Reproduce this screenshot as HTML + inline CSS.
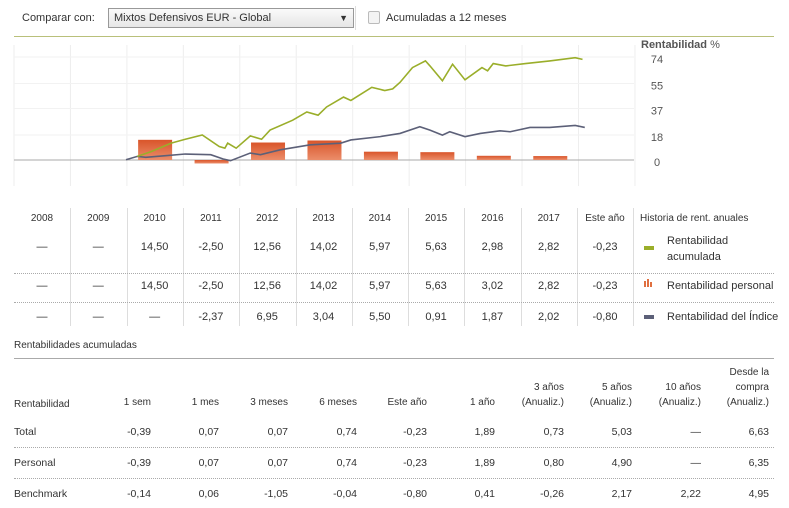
<!DOCTYPE html>
<html><head><meta charset="utf-8">
<style>
body{margin:0;width:789px;height:508px;background:#fff;font-family:"Liberation Sans",sans-serif;color:#333;position:relative;overflow:hidden}
.a{position:absolute;white-space:nowrap;font-size:11px}
.c{text-align:center;width:50px;margin-left:-25px}
.r{text-align:right;width:80px;margin-left:-80px}
.vs{position:absolute;width:1px;background:#ddd}
.dot{position:absolute;left:14px;width:760px;border-top:1px dotted #aaa;height:0}
</style></head><body>
<div class="a" style="left:22px;top:12px">Comparar con:</div>
<div style="position:absolute;left:108px;top:8px;width:239px;height:18px;border:1px solid #999;background:linear-gradient(#fafafa,#e6e6e6);font-size:11px;line-height:18px;padding-left:5px;box-sizing:content-box">Mixtos Defensivos EUR - Global<span style="position:absolute;right:5px;font-size:9px">▼</span></div>
<div style="position:absolute;left:355px;top:6px;width:1px;height:24px;background:#ddd"></div>
<div style="position:absolute;left:368px;top:11px;width:10px;height:11px;border:1px solid #bbb;border-radius:2px;background:#f4f4f4"></div>
<div class="a" style="left:386px;top:12px">Acumuladas a 12 meses</div>
<div style="position:absolute;left:14px;top:36px;width:760px;height:1px;background:#b9c07a"></div>
<svg id="chart" style="position:absolute;left:0;top:0" width="789" height="200"></svg>
<div id="tbl"></div>
<script>
const years=["2008","2009","2010","2011","2012","2013","2014","2015","2016","2017"];
const personalBars=[null,null,14.50,-2.50,12.56,14.02,5.97,5.63,3.02,2.82];
const accTimes=[2010.2,2010.45,2010.8,2011.05,2011.35,2011.65,2011.75,2011.8,2011.95,2012.2,2012.4,2012.55,2012.95,2013.2,2013.4,2013.55,2013.85,2013.98,2014.35,2014.58,2014.72,2014.85,2015.07,2015.3,2015.38,2015.6,2015.78,2016.0,2016.3,2016.4,2016.5,2016.72,2017.07,2017.5,2017.95,2018.08];
const accValues=[2.6,6.1,12.1,14.9,18.0,9.7,8.5,12.1,8.5,17.3,14.9,21.5,28.6,34.5,32.2,38.1,45.2,42.8,52.2,49.9,51.1,55.8,66.4,71.2,67.6,56.9,68.8,57.6,66.4,64.1,69.3,67.6,69.3,71.2,73.5,72.3];
const idxTimes=[2010.0,2010.2,2010.35,2010.7,2011.05,2011.5,2011.72,2011.85,2012.2,2012.38,2012.73,2013.26,2013.8,2013.98,2014.5,2014.85,2015.2,2015.38,2015.6,2015.73,2016.0,2016.27,2016.62,2016.8,2017.15,2017.5,2017.95,2018.12];
const idxValues=[0.2,2.6,1.9,3.1,4.3,3.8,0.7,-0.5,5.0,3.8,7.3,10.9,12.1,14.4,16.8,19.1,23.9,21.5,17.9,20.3,16.8,19.1,21.0,20.3,23.4,23.4,24.8,23.4];
const yTicks=[0,18,37,55,74];
const svg=document.getElementById('chart');const NS='http://www.w3.org/2000/svg';
const x0=126,yw=56.5,y0=160,ys=(160-57)/74;
const X=t=>x0+(t-2010)*yw, Y=v=>y0-v*ys;
function mk(tag,at,name){const e=document.createElementNS(NS,tag);for(const k in at)e.setAttribute(k,at[k]);


svg.appendChild(e);return e;}
const defs=mk('defs',{},'defs');defs.innerHTML='<linearGradient id="bg" x1="0" y1="0" x2="0" y2="1"><stop offset="0" stop-color="#d9552a"/><stop offset="1" stop-color="#eb8d6a"/></linearGradient>';
for(let i=0;i<=11;i++){mk('line',{x1:14+i*56.45,x2:14+i*56.45,y1:45,y2:186,stroke:'#eee'},'grid-vertical');}
yTicks.forEach(v=>{mk('line',{x1:14,x2:634,y1:Y(v),y2:Y(v),stroke:v===0?'#aaa':'#f2f2f2'},'grid-horizontal');
const t=mk('text',{x:657,y:Y(v)+6,'text-anchor':'middle','font-size':'11','fill':'#555','font-family':'Liberation Sans'},'y-tick-label');t.textContent=v;});
const tt=mk('text',{x:641,y:48,'font-size':'11','fill':'#555','font-family':'Liberation Sans','font-weight':'bold'},'y-axis-title');tt.innerHTML='Rentabilidad <tspan font-weight="normal">%</tspan>';
personalBars.forEach((v,i)=>{if(v==null)return;const cx=14+(i+0.5)*56.45;const top=Math.min(Y(v),Y(0)),h=Math.abs(Y(v)-Y(0));
mk('rect',{x:cx-17,y:top,width:34,height:h,fill:'url(#bg)'},'bar-'+years[i]);});
function line(ts,vs,col,name){mk('polyline',{points:ts.map((t,i)=>X(t)+','+Y(vs[i])).join(' '),fill:'none',stroke:col,'stroke-width':1.6},name);}
line(idxTimes,idxValues,'#5c6078','index-line');
line(accTimes,accValues,'#9aae2a','accumulated-line');

const tbl=document.getElementById('tbl');
const cols=[...years,"Este año"];
const row1=["—","—","14,50","-2,50","12,56","14,02","5,97","5,63","2,98","2,82","-0,23"];
const row2=["—","—","14,50","-2,50","12,56","14,02","5,97","5,63","3,02","2,82","-0,23"];
const row3=["—","—","—","-2,37","6,95","3,04","5,50","0,91","1,87","2,02","-0,80"];
let h='';
for(let i=1;i<=11;i++)h+=`<div class="vs" style="left:${14+i*56.3}px;top:208px;height:118px"></div>`;
cols.forEach((c,i)=>{h+=`<div class="a c" style="left:${42+i*56.3}px;top:213px;font-size:10px">${c}</div>`;});
[[row1,241],[row2,280],[row3,311]].forEach(([r,y])=>r.forEach((v,i)=>{h+=`<div class="a c" style="left:${42+i*56.3}px;top:${y}px">${v}</div>`;}));
h+=`<div class="dot" style="top:273px"></div><div class="dot" style="top:302px"></div>`;
h+=`<div class="a" style="left:640px;top:213px;font-size:10px">Historia de rent. anuales</div>`;
h+=`<div style="position:absolute;left:644px;top:246px;width:10px;height:4px;background:#9aae2a"></div><div class="a" style="left:667px;top:233px;line-height:16px">Rentabilidad<br>acumulada</div>`;
h+=`<div style="position:absolute;left:644px;top:281px;width:2px;height:6px;background:#e07040"></div><div style="position:absolute;left:647px;top:279px;width:2px;height:8px;background:#e07040"></div><div style="position:absolute;left:650px;top:282px;width:2px;height:5px;background:#e07040"></div><div class="a" style="left:667px;top:280px">Rentabilidad personal</div>`;
h+=`<div style="position:absolute;left:644px;top:315px;width:10px;height:4px;background:#5c6078"></div><div class="a" style="left:667px;top:311px">Rentabilidad del Índice</div>`;
h+=`<div class="a" style="left:14px;top:340px;font-size:10px">Rentabilidades acumuladas</div><div style="position:absolute;left:14px;top:358px;width:760px;height:1px;background:#aaa"></div>`;
const hdr=["1 sem","1 mes","3 meses","6 meses","Este año","1 año","3 años<br>(Anualiz.)","5 años<br>(Anualiz.)","10 años<br>(Anualiz.)","Desde la<br>compra<br>(Anualiz.)"];
const rights=[151,219,288,357,427,495,564,632,701,769];
const tot=["-0,39","0,07","0,07","0,74","-0,23","1,89","0,73","5,03","—","6,63"];
const per=["-0,39","0,07","0,07","0,74","-0,23","1,89","0,80","4,90","—","6,35"];
const ben=["-0,14","0,06","-1,05","-0,04","-0,80","0,41","-0,26","2,17","2,22","4,95"];
h+=`<div class="a" style="left:14px;top:399px;font-size:10px">Rentabilidad</div>`;
hdr.forEach((t,i)=>{const n=t.split('<br>').length;h+=`<div class="a r" style="left:${rights[i]}px;top:${410-n*15}px;font-size:10px;line-height:15px">${t}</div>`;});
[["Total",tot,426],["Personal",per,457],["Benchmark",ben,488]].forEach(([n,r,y])=>{h+=`<div class="a" style="left:14px;top:${y}px;font-size:10.5px">${n}</div>`;
r.forEach((v,i)=>{h+=`<div class="a r" style="left:${rights[i]}px;top:${y}px;font-size:10.5px">${v}</div>`;});});
h+=`<div class="dot" style="top:447px"></div><div class="dot" style="top:478px"></div>`;
tbl.innerHTML=h;
</script>
</body></html>
